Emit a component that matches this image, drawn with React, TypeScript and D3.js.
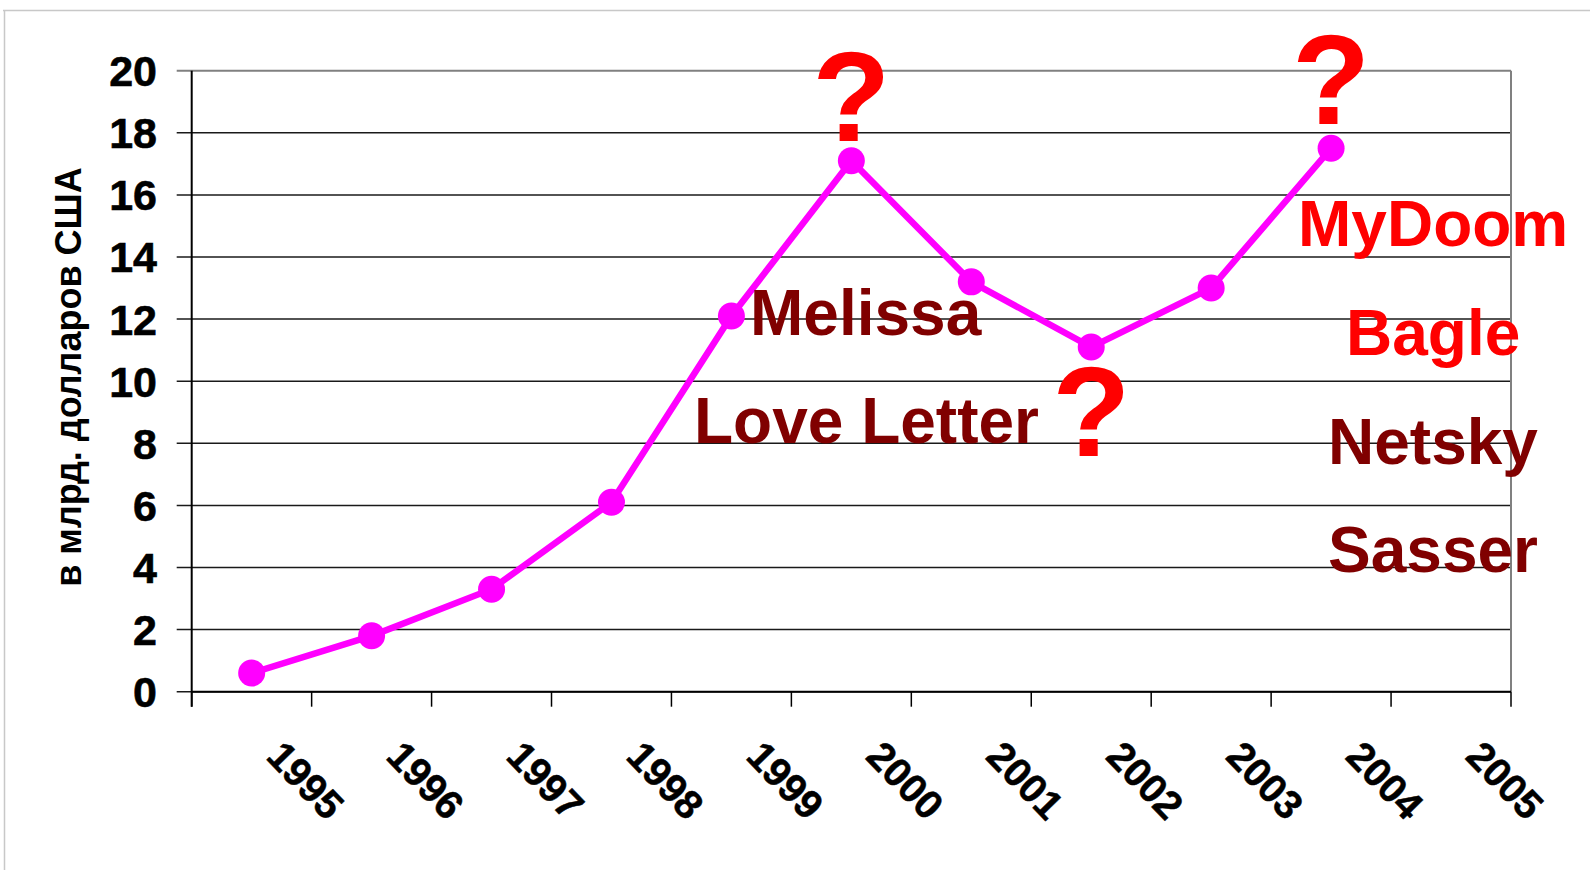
import React from 'react';
import * as d3 from 'd3';

// годы по оси X (2005 — пустая категория)
const years = ['1995', '1996', '1997', '1998', '1999', '2000', '2001', '2002', '2003', '2004', '2005'];
// ущерб, млрд долларов США
const damage = [0.6, 1.8, 3.3, 6.1, 12.1, 17.1, 13.2, 11.1, 13.0, 17.5];
const yTicks = [0, 2, 4, 6, 8, 10, 12, 14, 16, 18, 20];
const yTitle = 'в млрд. долларов США';

const virusNames = ['Melissa', 'Love Letter', 'MyDoom', 'Bagle', 'Netsky', 'Sasser'];
const questionYears = ['2000', '2002', '2004'];

const DARK = '#800000';
const RED = '#ff0000';
const LINE = '#ff00ff';
const FONT = '"Liberation Sans", Arial, sans-serif';

export default function App() {
  const width = 1590;
  const height = 870;
  const left = 191.7;
  const right = 1511;
  const top = 70.7;
  const bottom = 691.7;

  const x = d3.scaleBand().domain(years).range([left, right]).padding(0);
  const y = d3.scaleLinear().domain([0, 20]).range([bottom, top]);
  const cx = (yr: string) => (x(yr) ?? 0) + x.bandwidth() / 2;

  const pts = damage.map((v, i) => ({ yr: years[i], v }));
  const line = d3
    .line<{ yr: string; v: number }>()
    .x(d => cx(d.yr))
    .y(d => y(d.v));

  const boundaries = d3.range(years.length + 1).map(i => left + i * x.bandwidth());

  // layout of the annotation texts: [x, baseline y, colour]
  const nameLayout: [number, number, string][] = [
    [750, 335, DARK],
    [694, 443, DARK],
    [1298, 246, RED],
    [1346, 355, RED],
    [1328, 464, DARK],
    [1328, 572, DARK],
  ];
  // baseline offset of "?" relative to the point
  const qOffset: Record<string, number> = { '2000': -20, '2002': 109, '2004': -24 };

  return (
    <svg
      width={width}
      height={height}
      style={{ position: 'absolute', left: 0, top: 0, background: '#fff' }}
      fontFamily={FONT}
    >
      <rect x={0} y={0} width={width} height={height} fill="#fff" />
      {/* frame of the slide */}
      <line x1={3} x2={width} y1={10.5} y2={10.5} stroke="#c8c8c8" strokeWidth={1.5} />
      <line x1={4.5} x2={4.5} y1={10} y2={height} stroke="#c8c8c8" strokeWidth={1.5} />

      {/* grid */}
      {yTicks.map(t => (
        <line
          key={'g' + t}
          x1={left - 15}
          x2={right}
          y1={y(t)}
          y2={y(t)}
          stroke={t === 20 ? '#808080' : '#1a1a1a'}
          strokeWidth={t === 20 ? 2 : 1.5}
        />
      ))}
      <line x1={right} x2={right} y1={top} y2={bottom} stroke="#808080" strokeWidth={2} />

      {/* axes */}
      <line x1={left} x2={left} y1={top} y2={bottom + 15} stroke="#000" strokeWidth={2} />
      <line x1={left} x2={right} y1={bottom} y2={bottom} stroke="#000" strokeWidth={2} />
      {boundaries.map((b, i) => (
        <line key={'t' + i} x1={b} x2={b} y1={bottom} y2={bottom + 15} stroke="#000" strokeWidth={1.5} />
      ))}

      {/* y tick labels */}
      {yTicks.map(t => (
        <text
          key={'yl' + t}
          x={157}
          y={y(t)}
          dy="0.36em"
          textAnchor="end"
          fontSize={43}
          fontWeight="bold"
          fill="#000"
          stroke="#000"
          strokeWidth={0.6}
        >
          {t}
        </text>
      ))}

      {/* x tick labels */}
      {years.map(yr => (
        <text
          key={'xl' + yr}
          transform={`translate(${cx(yr) + 13},${758}) rotate(46)`}
          fontSize={40}
          fontWeight="bold"
          fill="#000"
          stroke="#000"
          strokeWidth={0.5}
        >
          {yr}
        </text>
      ))}

      {/* y title */}
      <text
        transform={`translate(81,377) rotate(-90)`}
        textAnchor="middle"
        fontSize={36}
        fontWeight="bold"
        fill="#000"
      >
        {yTitle}
      </text>

      {/* series */}
      <path d={line(pts) ?? ''} fill="none" stroke={LINE} strokeWidth={6.5} />
      {pts.map(p => (
        <circle key={'c' + p.yr} cx={cx(p.yr)} cy={y(p.v)} r={13.5} fill={LINE} />
      ))}

      {/* annotations */}
      {virusNames.map((n, i) => (
        <text
          key={n}
          x={nameLayout[i][0]}
          y={nameLayout[i][1]}
          fill={nameLayout[i][2]}
          fontSize={64}
          fontWeight="bold"
        >
          {n}
        </text>
      ))}
      {questionYears.map(yr => {
        const v = damage[years.indexOf(yr)];
        return (
          <text
            key={'q' + yr}
            x={cx(yr)}
            y={y(v) + qOffset[yr]}
            textAnchor="middle"
            fill={RED}
            fontSize={128}
            fontWeight="bold"
          >
            ?
          </text>
        );
      })}
    </svg>
  );
}
